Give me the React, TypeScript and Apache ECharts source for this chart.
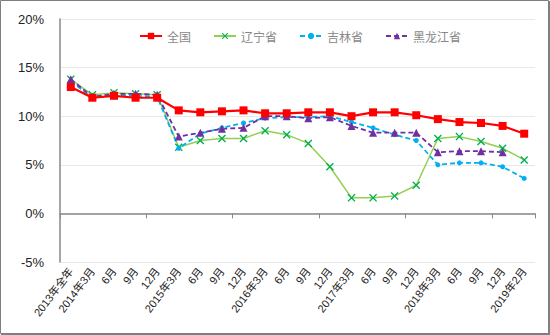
import React, { useEffect, useRef } from "react";
import * as echarts from "echarts";

const categories = [
  "2013年全年", "2014年3月", "6月", "9月", "12月", "2015年3月", "6月", "9月", "12月",
  "2016年3月", "6月", "9月", "12月", "2017年3月", "6月", "9月", "12月",
  "2018年3月", "6月", "9月", "12月", "2019年2月",
];
const national = [13.0, 11.9, 12.1, 11.9, 11.9, 10.6, 10.4, 10.5, 10.6, 10.3, 10.3, 10.4, 10.4, 10.0, 10.4, 10.4, 10.1, 9.7, 9.4, 9.3, 9.0, 8.2];
const liaoning = [13.8, 12.2, 12.4, 12.3, 12.2, 6.8, 7.5, 7.7, 7.7, 8.5, 8.1, 7.2, 4.8, 1.6, 1.6, 1.8, 2.9, 7.7, 7.9, 7.4, 6.7, 5.5];
const jilin = [13.6, 11.9, 12.2, 12.1, 12.0, 6.7, 8.2, 8.8, 9.3, 9.8, 9.9, 9.9, 10.0, 9.4, 8.8, 8.1, 7.5, 5.0, 5.2, 5.2, 4.8, 3.6];
const heilongjiang = [13.8, 12.0, 12.3, 12.3, 12.2, 7.9, 8.3, 8.7, 8.8, 10.0, 10.0, 9.8, 9.9, 9.0, 8.3, 8.3, 8.3, 6.3, 6.4, 6.4, 6.3, null];
const yTicks = [-5, 0, 5, 10, 15, 20];

const xPath = "path://M0,1.2 L1.2,0 L5,3.8 L8.8,0 L10,1.2 L6.2,5 L10,8.8 L8.8,10 L5,6.2 L1.2,10 L0,8.8 L3.8,5 Z";

export default function App() {
  const ref = useRef<HTMLDivElement>(null);
  useEffect(() => {
    const chart = echarts.init(ref.current!, null, { renderer: "svg" });
    const font = "'Liberation Sans', 'Noto Sans CJK SC', sans-serif";
    chart.setOption({
      animation: false,
      backgroundColor: "#fff",
      textStyle: { fontFamily: font },
      graphic: [
        {
          type: "rect",
          shape: { x: 0.5, y: 0.5, width: 548, height: 333 },
          style: { fill: "none", stroke: "#7f7f7f", lineWidth: 1 },
          silent: true,
        },
        {
          type: "polyline",
          shape: { points: [[549, 1], [549, 334], [1, 334]] },
          style: { fill: "none", stroke: "#7f7f7f", lineWidth: 2 },
          silent: true,
        },
      ],
      legend: {
        top: 25,
        left: 134,
        itemWidth: 22,
        itemHeight: 8,
        itemGap: 22,
        textStyle: { color: "#888", fontSize: 12, fontFamily: "'Noto Sans CJK SC', serif" },
        data: ["全国", "辽宁省", "吉林省", "黑龙江省"],
      },
      grid: { left: 60, right: 15, top: 19, bottom: 73 },
      xAxis: [
        {
          type: "category",
          data: categories,
          boundaryGap: true,
          axisLine: { onZero: true, lineStyle: { color: "#888", width: 1.5 } },
          axisTick: { show: true, length: 5, lineStyle: { color: "#888" } },
          axisLabel: { show: false },
        },
        {
          type: "category",
          data: categories,
          position: "bottom",
          boundaryGap: true,
          axisLine: { show: false, onZero: false },
          axisTick: { show: false },
          axisLabel: {
            rotate: 53,
            interval: 0,
            margin: 7,
            fontSize: 11,
            color: "#222",
            fontFamily: font,
          },
        },
      ],
      yAxis: {
        type: "value",
        min: -5,
        max: 20,
        interval: 5,
        axisLine: { show: true, lineStyle: { color: "#888", width: 1.5 } },
        axisTick: { show: false },
        splitLine: { lineStyle: { color: "#e8e8e8" } },
        axisLabel: {
          formatter: (v: number) => (yTicks.includes(v) ? v + "%" : ""),
          fontSize: 13,
          color: "#222",
          margin: 16,
        },
      },
      series: [
        {
          name: "全国",
          type: "line",
          data: national,
          symbol: "rect",
          symbolSize: 8,
          color: "#ff0000",
          lineStyle: { width: 2.2, color: "#ff0000" },
          itemStyle: { color: "#ff0000" },
          z: 5,
        },
        {
          name: "辽宁省",
          type: "line",
          data: liaoning,
          symbol: xPath,
          symbolSize: 8,
          lineStyle: { width: 1.5, color: "#92d050" },
          itemStyle: { color: "#00b050" },
        },
        {
          name: "吉林省",
          type: "line",
          data: jilin,
          symbol: "circle",
          symbolSize: 5,
          lineStyle: { width: 1.8, color: "#00b0f0", type: [5, 3] },
          itemStyle: { color: "#00b0f0" },
        },
        {
          name: "黑龙江省",
          type: "line",
          data: heilongjiang,
          symbol: "triangle",
          symbolSize: 8,
          lineStyle: { width: 1.8, color: "#7030a0", type: [5, 3] },
          itemStyle: { color: "#7030a0" },
          z: 3,
        },
      ],
    });
    return () => chart.dispose();
  }, []);
  return (
    <div
      ref={ref}
      style={{ position: "fixed", left: 0, top: 0, width: 550, height: 335 }}
    />
  );
}
